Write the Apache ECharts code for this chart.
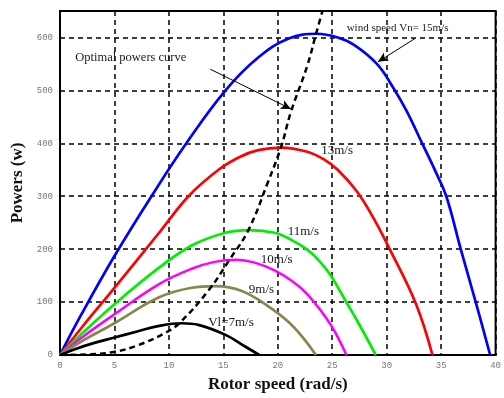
<!DOCTYPE html>
<html>
<head>
<meta charset="utf-8">
<script src="https://cdn.jsdelivr.net/npm/echarts@6/dist/echarts.min.js"></script>
<style>html,body{margin:0;padding:0;background:#fff;}#c{width:504px;height:398px;}</style>
</head>
<body>
<div id="c"></div>
<script>
// ---- data ----
var xTicks = [0, 5, 10, 15, 20, 25, 30, 35, 40];
var yTicks = [0, 100, 200, 300, 400, 500, 600];

var v15 = [[0,0],[2,78],[5,187],[8.4,300],[11.6,400],[15.2,500],[18.2,562],[21,598],[23.6,607],[25.5,600],[27,586],[29.1,550],[30.6,505],[31.8,462],[33.3,398],[34.5,346],[35.5,298],[36.8,200],[38.2,98],[39.5,0]];
var v13 = [[0,0],[2,52],[5,127],[9.1,231],[11.8,300],[14.5,349],[16.5,374],[18.2,387],[20.3,392],[22.7,384],[24.2,370],[25.5,350],[27.3,308],[28.8,258],[30.3,199],[32.7,96],[34.2,0]];
var v11 = [[0,0],[2,40],[5,96],[9.1,165],[12.1,207],[15.2,231],[17.4,236],[19.7,231],[21.2,218],[22.7,199],[23.8,178],[24.8,152],[26.4,96],[27.2,68],[29,0]];
var v10 = [[0,0],[2,33],[5,77],[9.1,134],[12.1,163],[14.2,176],[16.2,180],[17.8,175],[19.7,160],[21.3,140],[22.7,115],[24.8,59],[26.3,0]];
var v9  = [[0,0],[2,26],[5,60],[9.1,109],[12.1,127],[14.2,130],[16.7,121],[19.4,88],[21.5,52],[23.5,0]];
var v7  = [[0,0],[1.5,12],[3,22],[5,33],[7,44],[9.1,55],[11.2,60],[12.7,57],[15.2,38],[17,16],[18.3,0]];
var optimal = [[0,0],[2.5,1],[5,6],[7.1,18],[9.5,40],[10.9,59],[13.6,121],[15.5,178],[17.3,236],[19.1,327],[20.3,393],[21.2,459],[22.7,546],[23.5,606],[24.1,650]];

var labels = [
  {text:'wind speed Vn= 15m/s', at:[31.0,617], size:11},
  {text:'Optimal powers curve', at:[6.5,561], size:12.5},
  {text:'13m/s', at:[25.45,387], size:13},
  {text:'11m/s', at:[22.35,234], size:13},
  {text:'10m/s', at:[19.9,180], size:13},
  {text:'9m/s',  at:[18.5,124], size:13},
  {text:'Vl=7m/s', at:[15.7,62], size:13}
];
var arrows = [
  [[32.6,598],[29.2,554]],
  [[13.8,540],[21.2,465]]
];

var chart = echarts.init(document.getElementById('c'), null, {renderer:'canvas'});

function curve(name, data, color, width, dash) {
  return {
    name: name, type: 'line', data: data, smooth: 0.4, showSymbol: false,
    lineStyle: {color: color, width: width, type: dash || 'solid'},
    itemStyle: {color: color}, z: 3, silent: true, clip: true
  };
}

var series = [
  curve('15', v15, '#0000ff', 2.7),
  curve('13', v13, '#ff0000', 2.7),
  curve('11', v11, '#00ee00', 2.7),
  curve('10', v10, '#ff00ff', 2.5),
  curve('9',  v9,  '#8a8650', 2.7),
  curve('7',  v7,  '#000000', 2.7),
  curve('opt', optimal, '#000000', 2.5, [6,4])
];
series.push({
  type: 'line', data: [], silent: true,
  markLine: {
    silent: true, symbol: ['none','arrow'], symbolSize: [7,10],
    label: {show:false},
    lineStyle: {color:'#000', width:1, type:'solid'},
    data: arrows.map(function(a){ return [{coord:a[0]},{coord:a[1]}]; })
  }
});

chart.setOption({
  animation: false,
  backgroundColor: '#fff',
  grid: {left: 60, right: 5, top: 11, bottom: 40, show: true, borderColor: '#000', borderWidth: 2},
  xAxis: {
    type: 'value', min: xTicks[0], max: xTicks[xTicks.length-1], interval: 5,
    name: 'Rotor speed (rad/s)', nameLocation: 'middle', nameGap: 21,
    nameTextStyle: {fontFamily: 'Liberation Serif', fontWeight: 'bold', fontSize: 17, color: '#111'},
    axisLine: {show: true, lineStyle: {color: '#000', width: 2}},
    axisTick: {show: false},
    axisLabel: {fontFamily: 'Liberation Mono', fontSize: 9, color: '#777', margin: 6},
    splitLine: {show: true, lineStyle: {color: '#000', width: 1.5, type: [5,4]}}
  },
  yAxis: {
    type: 'value', min: 0, max: 650, interval: 100,
    name: 'Powers (w)', nameLocation: 'middle', nameGap: 20,
    nameTextStyle: {fontFamily: 'Liberation Serif', fontWeight: 'bold', fontSize: 17, color: '#111'},
    axisLine: {show: true, lineStyle: {color: '#000', width: 2}},
    axisTick: {show: false},
    axisLabel: {fontFamily: 'Liberation Mono', fontSize: 9, color: '#777', margin: 7, showMaxLabel: false,
      formatter: function(v){ return yTicks.indexOf(v) >= 0 ? String(v) : ''; }},
    splitLine: {show: true, lineStyle: {color: '#000', width: 1.5, type: [5,4]}}
  },
  series: series
});

var g = labels.map(function(l){
  var p = chart.convertToPixel({gridIndex:0}, l.at);
  return {type:'text', x:p[0], y:p[1], z: 10, silent:true,
    style:{text:l.text, fill:'#1a1a1a', font: l.size + 'px "Liberation Serif"', align:'center', verticalAlign:'middle'}};
});
chart.setOption({graphic: g});
</script>
</body>
</html>
